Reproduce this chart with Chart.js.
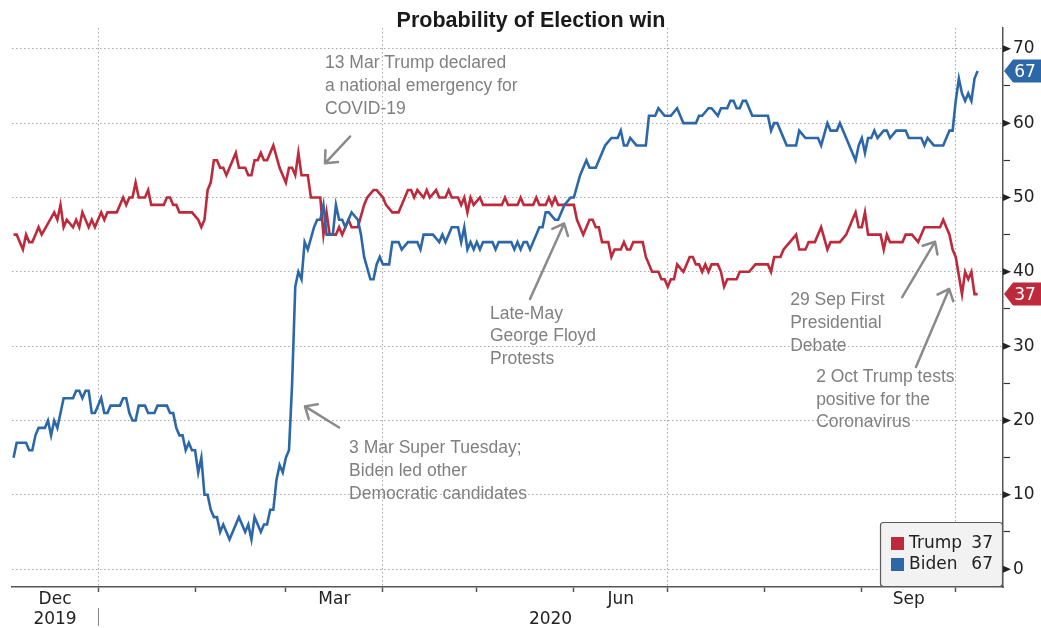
<!DOCTYPE html>
<html>
<head>
<meta charset="utf-8">
<title>Probability of Election win</title>
<script src="https://cdn.jsdelivr.net/npm/chart.js@4.4.1/dist/chart.umd.min.js"></script>
<style>
  html, body { margin: 0; padding: 0; background: #fff; }
  #wrap { width: 1041px; height: 628px; }
</style>
</head>
<body>
<div id="wrap"><canvas id="chart" width="1041" height="628"></canvas></div>
<script>
// --- DATA (x = days counted from 1 Dec 2019) ---
const trumpDays = [
    4, 5, 7, 8, 9, 10, 11, 12, 13, 17,
    18, 19, 20, 21, 23, 24, 25, 26, 28, 29,
    30, 32, 33, 34, 37, 39, 40, 41, 42, 43,
    44, 46, 47, 48, 52, 53, 54, 55, 56, 57,
    61, 63, 64, 65, 66, 67, 68, 69, 70, 71,
    72, 73, 75, 76, 78, 79, 80, 81, 82, 83,
    84, 85, 87, 89, 91, 92, 93, 94, 95, 96,
    98, 99, 102, 103, 104, 105, 107, 108, 109, 110,
    111, 112, 114, 116, 117, 119, 120, 122, 123, 125,
    127, 128, 130, 131, 132, 133, 135, 136, 137, 139,
    140, 142, 143, 144, 146, 147, 148, 149, 150, 151,
    153, 154, 160, 161, 162, 165, 166, 167, 170, 171,
    172, 174, 175, 176, 177, 178, 183, 184, 186, 187,
    188, 189, 190, 191, 192, 194, 195, 196, 198, 199,
    200, 201, 202, 205, 206, 208, 210, 211, 212, 213,
    214, 215, 216, 218, 219, 220, 221, 222, 223, 224,
    225, 226, 227, 229, 230, 231, 232, 235, 236, 239,
    241, 245, 246, 247, 249, 250, 252, 254, 255, 257,
    258, 260, 262, 264, 265, 268, 270, 271, 273, 274,
    275, 276, 277, 281, 282, 283, 284, 288, 289, 291,
    293, 295, 300, 301, 303, 304, 305, 306, 307, 308,
    309, 310, 311, 312
];
const trumpValues = [
    45, 45, 43, 45, 44, 44, 45, 46, 45, 48,
    47, 49, 46, 47, 46, 47, 46, 48, 46, 47,
    46, 48, 47, 48, 48, 50, 49, 50, 50, 52,
    50, 50, 51, 49, 49, 50, 50, 49, 49, 48,
    48, 47, 46, 47, 51, 52, 55, 55, 54, 54,
    53, 54, 56, 54, 54, 53, 53, 55, 55, 56,
    55, 55, 57, 54, 52, 54, 54, 53, 56, 53,
    53, 50, 50, 45, 48, 45, 45, 46, 45, 46,
    47, 46, 46, 49, 50, 51, 51, 50, 49, 48,
    48, 49, 51, 51, 50, 51, 50, 51, 50, 51,
    50, 50, 51, 50, 50, 49, 50, 48, 50, 49,
    50, 49, 49, 50, 49, 49, 50, 49, 49, 50,
    49, 49, 50, 49, 50, 49, 49, 47, 45, 46,
    47, 47, 46, 46, 44, 44, 42, 43, 43, 44,
    43, 43, 44, 44, 42, 40, 40, 39, 39, 38,
    39, 39, 41, 40, 41, 42, 42, 41, 41, 40,
    41, 40, 41, 41, 40, 38, 39, 39, 40, 40,
    41, 41, 40, 42, 42, 43, 44, 45, 43, 43,
    44, 44, 46, 43, 44, 44, 45, 46, 48, 46,
    46, 48, 45, 45, 43, 45, 44, 44, 45, 45,
    44, 46, 46, 47, 45, 43, 42, 39.5, 37, 40,
    39, 40, 37, 37
];
const bidenDays = [
    4, 5, 8, 9, 10, 11, 12, 14, 15, 16,
    17, 18, 20, 23, 24, 25, 26, 27, 28, 29,
    30, 32, 33, 34, 35, 38, 39, 40, 41, 42,
    43, 44, 46, 47, 49, 50, 53, 54, 55, 56,
    57, 58, 59, 60, 61, 62, 63, 64, 65, 66,
    67, 68, 69, 70, 71, 72, 73, 74, 76, 77,
    78, 79, 80, 81, 82, 83, 84, 85, 86, 87,
    88, 89, 90, 91, 92, 93, 94, 95, 96, 97,
    98, 100, 101, 102, 103, 104, 106, 107, 108, 109,
    110, 111, 112, 114, 115, 116, 118, 119, 120, 121,
    122, 124, 125, 127, 128, 130, 133, 134, 135, 138,
    140, 141, 142, 143, 144, 146, 147, 148, 149, 150,
    151, 152, 153, 154, 157, 158, 159, 163, 164, 165,
    166, 167, 168, 169, 170, 172, 173, 174, 175, 177,
    178, 180, 182, 183, 185, 187, 188, 190, 193, 195,
    197, 198, 199, 200, 201, 203, 206, 207, 209, 210,
    212, 214, 216, 218, 222, 223, 224, 226, 227, 229,
    230, 232, 233, 234, 235, 236, 237, 238, 240, 245,
    246, 247, 248, 251, 254, 255, 257, 261, 262, 264,
    265, 267, 268, 270, 271, 272, 273, 274, 275, 276,
    277, 278, 279, 280, 282, 283, 284, 286, 289, 290,
    294, 295, 296, 298, 301, 303, 304, 305, 306, 307,
    308, 309, 310, 311, 312
];
const bidenValues = [
    15, 17, 17, 16, 16, 18, 19, 19, 20, 18,
    20, 19, 23, 23, 24, 24, 23, 24, 24, 21,
    21, 23, 21, 21, 22, 22, 23, 23, 21, 20,
    20, 22, 22, 21, 21, 22, 22, 21, 21, 19,
    18, 18, 16, 17, 16, 16, 13, 15, 10, 10,
    8, 7, 7, 5, 6, 5, 4, 5, 7, 6,
    5, 6, 4, 7, 6, 5, 6, 6, 8, 8,
    12, 14, 13, 15, 16, 25, 38, 40, 39, 44,
    43, 46, 47, 47, 49, 45, 45, 49, 47, 47,
    46, 47, 48, 47, 45, 42, 39, 39, 41, 42,
    41, 41, 44, 44, 43, 44, 44, 43, 45, 45,
    44, 45, 44, 45, 46, 46, 44, 46, 43, 44,
    43, 44, 43, 44, 44, 43, 44, 44, 43, 44,
    43, 44, 44, 43, 44, 46, 46, 48, 48, 47,
    47, 49, 50, 50, 53, 55, 54, 54, 57, 58,
    58, 59, 57, 57, 58, 57, 57, 61, 61, 62,
    61, 61, 62, 60, 60, 61, 61, 62, 62, 61,
    62, 62, 63, 63, 62, 62, 63, 63, 61, 61,
    59, 60, 60, 57, 57, 59, 58, 58, 57, 60,
    59, 59, 60, 58, 57, 56, 55, 57, 58, 56,
    58, 58, 59, 58, 59, 59, 58, 59, 59, 58,
    58, 57, 58, 57, 57, 59, 59, 63, 66, 64,
    63, 64, 63, 66, 67
];

// axis ticks (days from 1 Dec 2019)
const monthStarts = [31, 62, 91, 122, 152, 183, 213, 244, 275, 305];
const quarterStarts = [31, 122, 213, 305];
const monthLabels = ["Dec", "Mar", "Jun", "Sep"];
const monthFrom = [0, 91, 183, 275];
const monthTo = [31, 122, 213, 305];
const yearLabels = ["2019", "2020"];
const yearFrom = [0, 31];
const yearTo = [31, 397];
const yTicks = [0, 5, 10, 15, 20, 25, 30, 35, 40, 45, 50, 55, 60, 65, 70];

// annotations, anchored in data units
const notes = [
    { lines: ["13 Mar Trump declared", "a national emergency for", "COVID-19"],
      day: 103.5, value: 68.4, from: [111.5, 58.2], to: [103.5, 54.6] },
    { lines: ["3 Mar Super Tuesday;", "Biden led other", "Democratic candidates"],
      day: 111.2, value: 16.6, from: [108, 19.05], to: [97.1, 21.9] },
    { lines: ["Late-May", "George Floyd", "Protests"],
      day: 156.2, value: 34.7, from: [169, 36.35], to: [179.9, 46.5] },
    { lines: ["29 Sep First", "Presidential", "Debate"],
      day: 252.1, value: 36.5, from: [287.9, 36.6], to: [298.4, 44.05] },
    { lines: ["2 Oct Trump tests", "positive for the", "Coronavirus"],
      day: 260.4, value: 26.2, from: [292.3, 27.2], to: [302.9, 37.7] }
];

const RED = "#bd2a3b";
const BLUE = "#2c67a8";
const GRID = "#a8a8a8";
const AXIS = "#555";
const NONE = "rgba(0,0,0,0)";
const TICK_FONT = "'DejaVu Sans', Verdana, sans-serif";
const NOTE_FONT = "'Liberation Sans', Arial, sans-serif";

function toPoints(days, values) {
    return days.map((d, i) => ({ x: d, y: values[i] }));
}

function drawArrow(ctx, x1, y1, x2, y2) {
    const a = Math.atan2(y2 - y1, x2 - x1);
    const len = 13;
    ctx.beginPath();
    ctx.moveTo(x1, y1);
    ctx.lineTo(x2, y2);
    ctx.moveTo(x2 - len * Math.cos(a - 0.72), y2 - len * Math.sin(a - 0.72));
    ctx.lineTo(x2, y2);
    ctx.lineTo(x2 - len * Math.cos(a + 0.72), y2 - len * Math.sin(a + 0.72));
    ctx.stroke();
}

// --- EXTRA DRAWING: title, date labels, notes, legend, value tags ---
const decor = {
    id: "decor",
    afterDraw(chart) {
        const { ctx, chartArea, scales: { x, y } } = chart;
        const r = chartArea.right;
        const W = chart.width;
        ctx.save();

        // title
        ctx.fillStyle = "#1a1a1a";
        ctx.font = "bold 21.5px " + NOTE_FONT;
        ctx.textAlign = "center";
        ctx.textBaseline = "middle";
        ctx.fillText("Probability of Election win", 531, 21);

        // triangle marks for the labelled y ticks
        ctx.fillStyle = "#222";
        yTicks.filter(v => v % 10 === 0).forEach(v => {
            const py = y.getPixelForValue(v);
            ctx.beginPath();
            ctx.moveTo(r, py - 3.5);
            ctx.lineTo(r + 8, py);
            ctx.lineTo(r, py + 3.5);
            ctx.closePath();
            ctx.fill();
        });

        // month + year labels, centred on the visible part of each period
        const mid = (a, b) => (x.getPixelForValue(Math.max(a, x.min)) +
                               x.getPixelForValue(Math.min(b, x.max))) / 2;
        ctx.fillStyle = "#222";
        ctx.font = "17px " + TICK_FONT;
        monthLabels.forEach((m, i) => {
            ctx.fillText(m, mid(monthFrom[i], monthTo[i]), chartArea.bottom + 13);
        });
        yearLabels.forEach((yr, i) => {
            ctx.fillText(yr, mid(yearFrom[i], yearTo[i]), chartArea.bottom + 33);
        });
        const sep = Math.round(x.getPixelForValue(yearFrom[1])) + 0.5;
        ctx.strokeStyle = "#888";
        ctx.lineWidth = 1;
        ctx.beginPath();
        ctx.moveTo(sep, chartArea.bottom + 21);
        ctx.lineTo(sep, chartArea.bottom + 39);
        ctx.stroke();

        // notes and arrows
        ctx.fillStyle = "#808080";
        ctx.strokeStyle = "#8a8a8a";
        ctx.lineWidth = 2.5;
        ctx.lineCap = "round";
        ctx.lineJoin = "round";
        ctx.font = "17.5px " + NOTE_FONT;
        ctx.textAlign = "left";
        notes.forEach(n => {
            const px = x.getPixelForValue(n.day);
            const py = y.getPixelForValue(n.value) + 2.5;
            n.lines.forEach((t, i) => ctx.fillText(t, px, py + i * 22.8));
            drawArrow(ctx,
                x.getPixelForValue(n.from[0]), y.getPixelForValue(n.from[1]),
                x.getPixelForValue(n.to[0]), y.getPixelForValue(n.to[1]));
        });

        // last value tags on the right axis
        const last = [
            { v: trumpValues[trumpValues.length - 1], c: RED },
            { v: bidenValues[bidenValues.length - 1], c: BLUE }
        ];
        ctx.font = "17px " + TICK_FONT;
        ctx.textAlign = "center";
        last.forEach(t => {
            const py = y.getPixelForValue(t.v);
            ctx.fillStyle = t.c;
            ctx.beginPath();
            ctx.moveTo(r + 1, py);
            ctx.lineTo(r + 10, py - 11.5);
            ctx.lineTo(W, py - 11.5);
            ctx.lineTo(W, py + 11.5);
            ctx.lineTo(r + 10, py + 11.5);
            ctx.closePath();
            ctx.fill();
            ctx.fillStyle = "#fff";
            ctx.fillText(String(t.v), r + 22, py + 1);
        });

        // legend box
        const bx = r - 123, by = chartArea.bottom - 65, bw = 123, bh = 64;
        ctx.fillStyle = "#f2f2f2";
        ctx.strokeStyle = "#5a5a5a";
        ctx.lineWidth = 1.2;
        ctx.beginPath();
        ctx.roundRect(bx + 0.5, by + 0.5, bw - 1, bh, 3);
        ctx.fill();
        ctx.stroke();
        const items = [
            { name: "Trump", v: trumpValues[trumpValues.length - 1], c: RED },
            { name: "Biden", v: bidenValues[bidenValues.length - 1], c: BLUE }
        ];
        items.forEach((it, i) => {
            const cy = by + 21 + i * 21;
            ctx.fillStyle = it.c;
            ctx.fillRect(bx + 11, cy - 6, 13, 13);
            ctx.fillStyle = "#222";
            ctx.textAlign = "left";
            ctx.fillText(it.name, bx + 29, cy + 1);
            ctx.textAlign = "right";
            ctx.fillText(String(it.v), bx + 113, cy + 1);
        });

        ctx.restore();
    }
};

// --- CHART ---
new Chart(document.getElementById("chart"), {
    type: "line",
    data: {
        datasets: [
            {
                label: "Trump",
                data: toPoints(trumpDays, trumpValues),
                borderColor: RED,
                borderWidth: 2.6,
                pointRadius: 0,
                tension: 0,
                order: 1
            },
            {
                label: "Biden",
                data: toPoints(bidenDays, bidenValues),
                borderColor: BLUE,
                borderWidth: 2.6,
                pointRadius: 0,
                tension: 0,
                order: 0
            }
        ]
    },
    options: {
        responsive: false,
        animation: false,
        layout: { padding: { top: 28, left: 12, right: 0, bottom: 0 } },
        plugins: {
            legend: { display: false },
            tooltip: { enabled: false }
        },
        scales: {
            x: {
                type: "linear",
                min: 3.51,
                max: 320.1,
                afterBuildTicks: s => { s.ticks = monthStarts.map(v => ({ value: v })); },
                afterFit: s => { s.height = 41; },
                ticks: { display: false },
                grid: {
                    color: c => (c.tick && quarterStarts.includes(c.tick.value)) ? GRID : NONE,
                    lineWidth: 1,
                    tickColor: AXIS,
                    tickLength: 5,
                    tickWidth: 1.5
                },
                border: { display: true, color: AXIS, width: 1.5, dash: [1.5, 2.5] }
            },
            y: {
                position: "right",
                min: -2.4,
                max: 72.8,
                afterBuildTicks: s => { s.ticks = yTicks.map(v => ({ value: v })); },
                afterFit: s => { s.width = 38; },
                ticks: {
                    color: "#222",
                    padding: 3,
                    font: { family: TICK_FONT, size: 17 },
                    callback: v => (v % 10 === 0 ? v : "")
                },
                grid: {
                    color: c => (c.tick && c.tick.value % 10 === 0) ? GRID : NONE,
                    lineWidth: 1,
                    tickColor: c => (c.tick && c.tick.value % 10 === 0) ? NONE : "#333",
                    tickLength: 7,
                    tickWidth: 1.2
                },
                border: { display: true, color: AXIS, width: 1.5, dash: [1.5, 2.5] }
            }
        }
    },
    plugins: [decor]
});
</script>
</body>
</html>
